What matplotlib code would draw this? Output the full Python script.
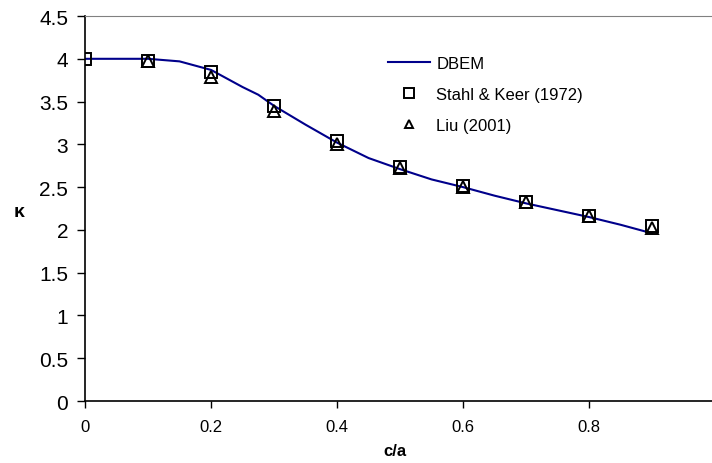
import matplotlib
matplotlib.use("Agg")
from matplotlib import pyplot as plt

# DBEM curve
dbem_x = [0.0, 0.05, 0.1, 0.15, 0.2, 0.25, 0.275, 0.3, 0.35, 0.4, 0.45, 0.5,
          0.55, 0.6, 0.65, 0.7, 0.75, 0.8, 0.85, 0.9]
dbem_k = [4.0, 4.0, 4.0, 3.97, 3.87, 3.67, 3.58, 3.45, 3.23, 3.02, 2.84, 2.71,
          2.59, 2.50, 2.40, 2.31, 2.23, 2.15, 2.06, 1.96]

# Stahl & Keer (1972)
sk_x = [0.0, 0.1, 0.2, 0.3, 0.4, 0.5, 0.6, 0.7, 0.8, 0.9]
sk_k = [4.0, 3.98, 3.85, 3.45, 3.04, 2.74, 2.51, 2.33, 2.16, 2.04]

# Liu (2001)
liu_x = [0.1, 0.2, 0.3, 0.4, 0.5, 0.6, 0.7, 0.8, 0.9]
liu_k = [3.97, 3.79, 3.39, 3.0, 2.72, 2.50, 2.33, 2.16, 2.02]

plt.rcParams['font.family'] = ['Liberation Sans', 'DejaVu Sans']

fig = plt.figure(figsize=(7.12, 4.64), dpi=100)
ax = fig.add_axes([0.1194, 0.1336, 0.8806, 0.8297])

ax.plot(dbem_x, dbem_k, color='#00008B', lw=1.5, label='DBEM')
ax.plot(sk_x, sk_k, ls='none', marker='s', ms=8.5, mfc='none', mec='black',
        mew=1.4, label='Stahl & Keer (1972)')
ax.plot(liu_x, liu_k, ls='none', marker='^', ms=8, mfc='none', mec='black',
        mew=1.4, label='Liu (2001)')

ax.set_xlim(0, 0.995)
ax.set_ylim(0, 4.5)
ax.set_xticks([0, 0.2, 0.4, 0.6, 0.8])
ax.set_xticklabels(['0', '0.2', '0.4', '0.6', '0.8'])
ax.set_yticks([0, 0.5, 1, 1.5, 2, 2.5, 3, 3.5, 4, 4.5])
ax.set_yticklabels(['0', '0.5', '1', '1.5', '2', '2.5', '3', '3.5', '4', '4.5'])
ax.tick_params(axis='y', labelsize=15, length=6, direction='out', width=1, pad=6)
ax.tick_params(axis='x', labelsize=12, length=5, direction='out', width=1, pad=8)

ax.spines['right'].set_visible(False)
ax.spines['top'].set_color('#808080')
ax.spines['left'].set_linewidth(1.2)
ax.spines['bottom'].set_linewidth(1.2)

ax.set_xlabel('c/a', fontsize=12, fontweight='bold')
ax.xaxis.set_label_coords(0.495, -0.11)
ax.set_ylabel('κ', fontsize=14, fontweight='bold', rotation=0)
ax.yaxis.set_label_coords(-0.105, 0.47)

ax.legend(loc='upper left', bbox_to_anchor=(388 / 712, 1 - 57 / 464),
          bbox_transform=fig.transFigure, frameon=False, fontsize=12,
          handlelength=2.5, handletextpad=0.4, labelspacing=0.95,
          borderpad=0, borderaxespad=0, markerscale=0.8)

fig.savefig('out.png', dpi=100)
